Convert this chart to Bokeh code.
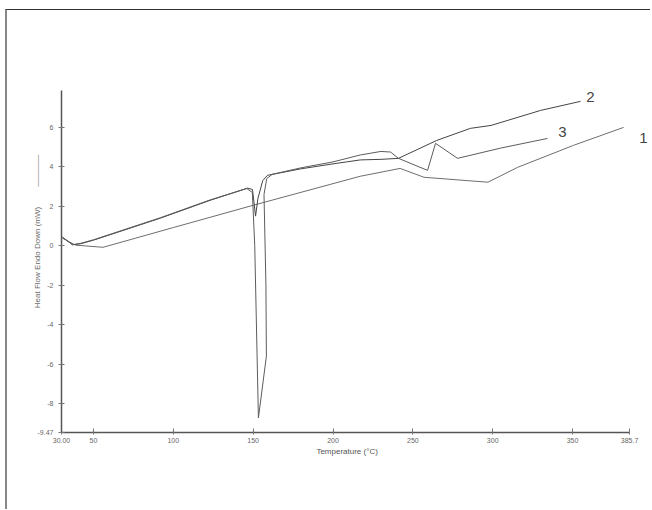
from bokeh.plotting import figure
from bokeh.models import FixedTicker, Label, Range1d
from bokeh.embed import file_html
from bokeh.resources import INLINE

# Temperature (°C) and heat flow (mW)
t1 = [30.6, 38.8, 56.0, 100.0, 150.0, 217.0, 242.0, 257.0, 297.0, 315.5, 350.6, 382.0]
h1 = [0.38, 0.03, -0.08, 0.92, 2.05, 3.52, 3.92, 3.47, 3.22, 3.97, 5.09, 6.00]

t2 = [30.6, 36.9, 42.0, 50.0, 92.0, 123.0, 146.5, 149.6, 151.5, 153.0, 156.0, 159.0,
      180.0, 200.0, 217.0, 230.0, 241.0, 265.0, 286.0, 299.0, 330.0, 355.0]
h2 = [0.43, 0.05, 0.10, 0.28, 1.40, 2.30, 2.92, 2.85, 1.50, 2.40, 3.30, 3.57,
      3.90, 4.15, 4.35, 4.38, 4.43, 5.34, 5.95, 6.10, 6.86, 7.32]

t3 = [30.6, 36.9, 42.0, 50.0, 92.0, 123.0, 146.0, 149.5, 151.0, 153.3, 158.3, 158.0,
      156.8, 158.5, 162.0, 180.0, 200.0, 217.0, 230.0, 236.0, 241.0, 259.2, 264.2,
      278.0, 305.0, 334.3]
h3 = [0.43, 0.05, 0.12, 0.30, 1.42, 2.32, 2.90, 2.70, 0.00, -8.73, -5.60, -2.00,
      2.60, 3.40, 3.62, 3.95, 4.25, 4.60, 4.78, 4.75, 4.43, 3.82, 5.19,
      4.43, 4.95, 5.44]

curve_labels = ["1", "2", "3"]
label_t = [394.4, 361.2, 343.7]
label_h = [5.44, 7.52, 5.75]

x_ticks = [30.0, 50, 100, 150, 200, 250, 300, 350, 385.7]
x_tick_text = ["30.00", "50", "100", "150", "200", "250", "300", "350", "385.7"]
y_ticks = [-9.47, -8, -6, -4, -2, 0, 2, 4, 6]
y_tick_text = ["-9.47", "-8", "-6", "-4", "-2", "0", "2", "4", "6"]

NB = "\u00a0"
y_title = NB * 27 + "Heat Flow Endo Down (mW)" + NB * 9 + "————"
x_title = "Temperature (°C)" + NB * 8

p = figure(width=645, height=500, output_backend="svg", toolbar_location=None,
           x_range=Range1d(30.0, 398.8), y_range=Range1d(-9.47, 7.87),
           min_border_left=54, min_border_right=2, min_border_top=80,
           min_border_bottom=78)
p.margin = (9, 0, 0, 5)
p.styles = {"border-top": "1px solid #333", "border-left": "2px solid #888"}
p.outline_line_color = None
p.xgrid.grid_line_color = None
p.ygrid.grid_line_color = None
p.background_fill_color = "white"

p.line(t1, h1, line_color="#6e6e6e", line_width=1)
p.line(t2, h2, line_color="#444444", line_width=1)
p.line(t3, h3, line_color="#5c5c5c", line_width=1)

for txt, tx, hy in zip(curve_labels, label_t, label_h):
    p.add_layout(Label(x=tx, y=hy, text=txt, text_font="Liberation Sans",
                       text_font_size="15px", text_color="#444444",
                       text_align="center", text_baseline="middle"))

xa = p.xaxis[0]
xa.bounds = (30.0, 385.7)
xa.ticker = FixedTicker(ticks=x_ticks)
xa.major_label_overrides = {t: s for t, s in zip(x_ticks, x_tick_text)}
xa.axis_label = x_title
xa.axis_label_text_font = "Liberation Sans"
xa.axis_label_text_font_style = "normal"
xa.axis_label_text_font_size = "8px"
xa.axis_label_text_color = "#555555"
xa.axis_label_standoff = 1
xa.major_label_text_font = "Liberation Sans"
xa.major_label_text_font_size = "7px"
xa.major_label_text_color = "#666666"
xa.major_label_standoff = 3
xa.major_tick_in = 4
xa.major_tick_out = 2
xa.minor_tick_line_color = None
xa.axis_line_color = "#555555"
xa.axis_line_width = 1.5
xa.major_tick_line_color = "#777777"

ya = p.yaxis[0]
ya.ticker = FixedTicker(ticks=y_ticks)
ya.major_label_overrides = {t: s for t, s in zip(y_ticks, y_tick_text)}
ya.axis_label = y_title
ya.axis_label_text_font = "Liberation Sans"
ya.axis_label_text_font_style = "normal"
ya.axis_label_text_font_size = "8px"
ya.axis_label_text_color = "#6a6a6a"
ya.axis_label_standoff = -7
ya.major_label_text_font = "Liberation Sans"
ya.major_label_text_font_size = "7px"
ya.major_label_text_color = "#666666"
ya.major_label_standoff = 5
ya.major_label_orientation = "horizontal"
ya.major_tick_in = 3
ya.major_tick_out = 3
ya.minor_tick_line_color = None
ya.axis_line_color = "#555555"
ya.axis_line_width = 1.5
ya.major_tick_line_color = "#777777"

open("out.html", "w").write(file_html(p, INLINE))
